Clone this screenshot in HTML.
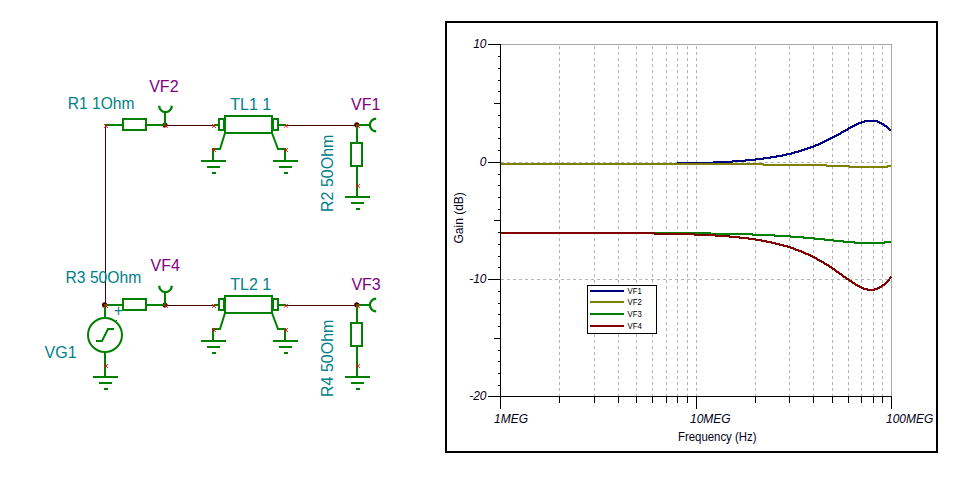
<!DOCTYPE html>
<html lang="en"><head><meta charset="utf-8"><title>Transmission line circuit and gain plot</title>
<style>html,body{margin:0;padding:0;background:#fff}body{width:955px;height:478px;overflow:hidden}svg{display:block}text{font-family:"Liberation Sans",Arial,sans-serif}</style></head><body>
<svg width="955" height="478" viewBox="0 0 955 478">
<rect width="955" height="478" fill="#fff"/>
<g id="schematic">
<path d="M105.5,125V305" stroke="#400000" stroke-width="1" shape-rendering="crispEdges"/>
<circle cx="104.6" cy="304.9" r="2.6" fill="#400000"/>
<circle cx="164.9" cy="125.1" r="2.5" fill="#400000"/>
<circle cx="356.8" cy="124.8" r="2.6" fill="#400000"/>
<path d="M105,125H123M146,125H165" stroke="#008000" stroke-width="2" shape-rendering="crispEdges"/>
<rect x="123" y="119" width="23" height="11" fill="#fff" stroke="#008000" stroke-width="2" shape-rendering="crispEdges"/>
<path d="M165,125V113" stroke="#008000" stroke-width="2" shape-rendering="crispEdges"/>
<path d="M159.2,105.8A6.3,6.3 0 0 0 171.8,105.8" stroke="#008000" stroke-width="2.3" fill="none"/>
<path d="M166,125.5H214M286,125.5H357" stroke="#400000" stroke-width="1" shape-rendering="crispEdges"/>
<path d="M214,125H219M278,125H286" stroke="#008000" stroke-width="2" shape-rendering="crispEdges"/>
<rect x="219" y="119" width="5" height="11" fill="#fff" stroke="#008000" stroke-width="2" shape-rendering="crispEdges"/>
<rect x="273" y="119" width="5" height="11" fill="#fff" stroke="#008000" stroke-width="2" shape-rendering="crispEdges"/>
<rect x="225" y="116" width="47" height="17" fill="#fff" stroke="#008000" stroke-width="2" shape-rendering="crispEdges"/>
<path d="M225,133L220,149H213V161M272,133L278,149H285V161" stroke="#008000" stroke-width="2" fill="none"/>
<path d="M201,161H226M207,167H220M212,173H216" stroke="#008000" stroke-width="2" fill="none" shape-rendering="crispEdges"/>
<path d="M273,161H298M279,167H292M284,173H288" stroke="#008000" stroke-width="2" fill="none" shape-rendering="crispEdges"/>
<path d="M357,125H370M357,125V143M357,166V197" stroke="#008000" stroke-width="2" shape-rendering="crispEdges"/>
<path d="M376.2,118.7A6.3,6.3 0 0 0 376.2,131.3" stroke="#008000" stroke-width="2.3" fill="none"/>
<rect x="351" y="143" width="11" height="23" fill="#fff" stroke="#008000" stroke-width="2" shape-rendering="crispEdges"/>
<path d="M345,197H370M351,203H364M356,209H360" stroke="#008000" stroke-width="2" fill="none" shape-rendering="crispEdges"/>
<path d="M104.0,124.0L108.0,128.0M108.0,124.0L104.0,128.0" stroke="#ff0000" stroke-width="0.9" fill="none"/>
<path d="M163.8,123.9L167.8,127.9M167.8,123.9L163.8,127.9" stroke="#ff0000" stroke-width="0.9" fill="none"/>
<path d="M212.0,124.0L216.0,128.0M216.0,124.0L212.0,128.0" stroke="#ff0000" stroke-width="0.9" fill="none"/>
<path d="M284.0,123.8L288.0,127.8M288.0,123.8L284.0,127.8" stroke="#ff0000" stroke-width="0.9" fill="none"/>
<path d="M212.0,148.0L216.0,152.0M216.0,148.0L212.0,152.0" stroke="#ff0000" stroke-width="0.9" fill="none"/>
<path d="M284.0,148.0L288.0,152.0M288.0,148.0L284.0,152.0" stroke="#ff0000" stroke-width="0.9" fill="none"/>
<path d="M355.9,124.0L359.9,128.0M359.9,124.0L355.9,128.0" stroke="#ff0000" stroke-width="0.9" fill="none"/>
<path d="M355.9,184.0L359.9,188.0M359.9,184.0L355.9,188.0" stroke="#ff0000" stroke-width="0.9" fill="none"/>
<circle cx="164.9" cy="305.1" r="2.5" fill="#400000"/>
<circle cx="356.8" cy="304.8" r="2.6" fill="#400000"/>
<path d="M105,305H123M146,305H165" stroke="#008000" stroke-width="2" shape-rendering="crispEdges"/>
<rect x="123" y="299" width="23" height="11" fill="#fff" stroke="#008000" stroke-width="2" shape-rendering="crispEdges"/>
<path d="M165,305V293" stroke="#008000" stroke-width="2" shape-rendering="crispEdges"/>
<path d="M159.2,285.8A6.3,6.3 0 0 0 171.8,285.8" stroke="#008000" stroke-width="2.3" fill="none"/>
<path d="M166,305.5H214M286,305.5H357" stroke="#400000" stroke-width="1" shape-rendering="crispEdges"/>
<path d="M214,305H219M278,305H286" stroke="#008000" stroke-width="2" shape-rendering="crispEdges"/>
<rect x="219" y="299" width="5" height="11" fill="#fff" stroke="#008000" stroke-width="2" shape-rendering="crispEdges"/>
<rect x="273" y="299" width="5" height="11" fill="#fff" stroke="#008000" stroke-width="2" shape-rendering="crispEdges"/>
<rect x="225" y="296" width="47" height="17" fill="#fff" stroke="#008000" stroke-width="2" shape-rendering="crispEdges"/>
<path d="M225,313L220,329H213V341M272,313L278,329H285V341" stroke="#008000" stroke-width="2" fill="none"/>
<path d="M201,341H226M207,347H220M212,353H216" stroke="#008000" stroke-width="2" fill="none" shape-rendering="crispEdges"/>
<path d="M273,341H298M279,347H292M284,353H288" stroke="#008000" stroke-width="2" fill="none" shape-rendering="crispEdges"/>
<path d="M357,305H370M357,305V323M357,346V377" stroke="#008000" stroke-width="2" shape-rendering="crispEdges"/>
<path d="M376.2,298.7A6.3,6.3 0 0 0 376.2,311.3" stroke="#008000" stroke-width="2.3" fill="none"/>
<rect x="351" y="323" width="11" height="23" fill="#fff" stroke="#008000" stroke-width="2" shape-rendering="crispEdges"/>
<path d="M345,377H370M351,383H364M356,389H360" stroke="#008000" stroke-width="2" fill="none" shape-rendering="crispEdges"/>
<path d="M104.0,304.0L108.0,308.0M108.0,304.0L104.0,308.0" stroke="#ff0000" stroke-width="0.9" fill="none"/>
<path d="M163.8,303.9L167.8,307.9M167.8,303.9L163.8,307.9" stroke="#ff0000" stroke-width="0.9" fill="none"/>
<path d="M212.0,304.0L216.0,308.0M216.0,304.0L212.0,308.0" stroke="#ff0000" stroke-width="0.9" fill="none"/>
<path d="M284.0,303.8L288.0,307.8M288.0,303.8L284.0,307.8" stroke="#ff0000" stroke-width="0.9" fill="none"/>
<path d="M212.0,328.0L216.0,332.0M216.0,328.0L212.0,332.0" stroke="#ff0000" stroke-width="0.9" fill="none"/>
<path d="M284.0,328.0L288.0,332.0M288.0,328.0L284.0,332.0" stroke="#ff0000" stroke-width="0.9" fill="none"/>
<path d="M355.9,304.0L359.9,308.0M359.9,304.0L355.9,308.0" stroke="#ff0000" stroke-width="0.9" fill="none"/>
<path d="M355.9,364.0L359.9,368.0M359.9,364.0L355.9,368.0" stroke="#ff0000" stroke-width="0.9" fill="none"/>
<path d="M105,305V318M105,352V377" stroke="#008000" stroke-width="2" shape-rendering="crispEdges"/>
<circle cx="105" cy="335" r="17" fill="#fff" stroke="#008000" stroke-width="2"/>
<path d="M96,341H102L108,329H114" stroke="#008000" stroke-width="2" fill="none"/>
<path d="M93,377H118M99,383H112M104,389H108" stroke="#008000" stroke-width="2" fill="none" shape-rendering="crispEdges"/>
<path d="M104.0,364.0L108.0,368.0M108.0,364.0L104.0,368.0" stroke="#ff0000" stroke-width="0.9" fill="none"/>
<path d="M104.0,304.0L108.0,308.0M108.0,304.0L104.0,308.0" stroke="#ff0000" stroke-width="0.9" fill="none"/>
<text x="113.8" y="316.3" font-size="16" fill="#008088">+</text>
<rect x="116" y="320" width="1" height="1" fill="#222"/>
<text transform="translate(67.8,109) scale(0.975,1.0)" font-size="16" fill="#008088" >R1 1Ohm</text>
<text transform="translate(149.2,92) scale(1.0,1.0)" font-size="16" fill="#800080" >VF2</text>
<text transform="translate(230.3,110) scale(1.0,1.0)" font-size="16" fill="#008088" >TL1 1</text>
<text transform="translate(351,110) scale(1.0,1.0)" font-size="16" fill="#800080" >VF1</text>
<text transform="translate(333,212) rotate(-90) scale(1.0,1.0)" font-size="16" fill="#008088" >R2 50Ohm</text>
<text transform="translate(65.5,283) scale(0.98,1.0)" font-size="16" fill="#008088" >R3 50Ohm</text>
<text transform="translate(150.6,271) scale(1.0,1.0)" font-size="16" fill="#800080" >VF4</text>
<text transform="translate(230.3,290) scale(1.0,1.0)" font-size="16" fill="#008088" >TL2 1</text>
<text transform="translate(351.4,290) scale(1.0,1.0)" font-size="16" fill="#800080" >VF3</text>
<text transform="translate(333,397) rotate(-90) scale(1.0,1.0)" font-size="16" fill="#008088" >R4 50Ohm</text>
<text transform="translate(44.6,358) scale(1.0,1.0)" font-size="16" fill="#008088" >VG1</text>
</g>
<g id="plot">
<rect x="446" y="22" width="491" height="430" fill="#fff" stroke="#000" stroke-width="2" shape-rendering="crispEdges"/>
<path d="M559.5,46V396M594.5,46V396M618.5,46V396M636.5,46V396M652.5,46V396M666.5,46V396M677.5,46V396M687.5,46V396M755.5,46V396M789.5,46V396M813.5,46V396M832.5,46V396M848.5,46V396M861.5,46V396M873.5,46V396M882.5,46V396M696.5,46V396" stroke="#b4b4b4" stroke-width="1" stroke-dasharray="3 3" fill="none" shape-rendering="crispEdges"/>
<path d="M501,162.5H891M501,279.5H891" stroke="#b4b4b4" stroke-width="1" stroke-dasharray="3 3" fill="none" shape-rendering="crispEdges"/>
<path d="M501,44.5H891.5V396" stroke="#a8a8a8" stroke-width="1" fill="none" shape-rendering="crispEdges"/>
<path d="M501,164L677,164L678,163L713,163L714,162L732,162L733,161L745,161L746,160L755,160L756,159L763,159L764,158L770,158L771,157L776,157L777,156L782,156L783,155L786,155L787,154L791,154L792,153L794,153L795,152L798,152L799,151L801,151L802,150L804,150L805,149L807,149L808,148L810,148L811,147L813,147L814,146L815,146L816,145L818,145L819,144L820,144L821,143L822,143L823,142L824,142L825,141L826,141L827,140L828,140L829,139L830,139L831,138L832,138L833,137L834,137L835,136L836,136L837,135L838,135L839,134L840,134L841,133L842,132L843,132L844,131L845,131L846,130L847,130L848,129L849,128L850,128L851,127L852,127L853,126L854,126L855,125L856,125L857,124L858,124L859,123L861,123L862,122L864,122L865,121L877,121L878,122L879,122L880,123L881,123L882,124L883,124L884,125L885,126L886,126L887,127L888,128L889,129L890,130L891,131" stroke="#000080" stroke-width="2" fill="none" stroke-linejoin="round" shape-rendering="crispEdges"/>
<path d="M501,164L763,164L764,165L826,165L827,166L849,166L850,167L887,167L888,166L891,166" stroke="#808000" stroke-width="2" fill="none" stroke-linejoin="round" shape-rendering="crispEdges"/>
<path d="M501,233L710,233L711,234L752,234L753,235L774,235L775,236L790,236L791,237L803,237L804,238L814,238L815,239L824,239L825,240L833,240L834,241L843,241L844,242L854,242L855,243L884,243L885,242L891,242" stroke="#008000" stroke-width="2" fill="none" stroke-linejoin="round" shape-rendering="crispEdges"/>
<path d="M501,233L654,233L655,234L694,234L695,235L715,235L716,236L729,236L730,237L739,237L740,238L748,238L749,239L755,239L756,240L761,240L762,241L766,241L767,242L771,242L772,243L775,243L776,244L779,244L780,245L783,245L784,246L787,246L788,247L790,247L791,248L793,248L794,249L795,249L796,250L798,250L799,251L801,251L802,252L803,252L804,253L805,253L806,254L808,254L809,255L810,255L811,256L812,256L813,257L814,257L815,258L816,258L817,259L818,260L819,260L820,261L821,261L822,262L823,262L824,263L825,264L826,264L827,265L828,265L829,266L830,267L831,267L832,268L833,269L834,269L835,270L836,271L837,272L838,272L839,273L840,274L841,274L842,275L843,276L844,277L845,277L846,278L847,279L848,279L849,280L850,281L851,281L852,282L853,283L854,283L855,284L856,285L857,285L858,286L859,286L860,287L861,287L862,288L863,288L864,289L867,289L868,290L874,290L875,289L877,289L878,288L879,288L880,287L881,287L882,286L883,285L884,285L885,284L886,283L887,282L888,281L889,280L890,278L891,277" stroke="#800000" stroke-width="2" fill="none" stroke-linejoin="round" shape-rendering="crispEdges"/>
<path d="M500.5,44V409M488,396.5H892M488,44.5H501M488,44.5H501M498,56.5H501M498,68.5H501M498,80.5H501M498,91.5H501M494,103.5H501M498,115.5H501M498,127.5H501M498,138.5H501M498,150.5H501M488,162.5H501M498,174.5H501M498,185.5H501M498,197.5H501M498,209.5H501M494,220.5H501M498,232.5H501M498,244.5H501M498,256.5H501M498,267.5H501M488,279.5H501M498,291.5H501M498,303.5H501M498,314.5H501M498,326.5H501M494,338.5H501M498,350.5H501M498,361.5H501M498,373.5H501M498,385.5H501M488,396.5H501M559.5,397V403M594.5,397V403M618.5,397V403M636.5,397V403M652.5,397V403M666.5,397V403M677.5,397V403M687.5,397V403M755.5,397V403M789.5,397V403M813.5,397V403M832.5,397V403M848.5,397V403M861.5,397V403M873.5,397V403M882.5,397V403M696.5,397V409M891.5,397V409" stroke="#000" stroke-width="1" fill="none" shape-rendering="crispEdges"/>
<text transform="translate(486.5,48) scale(1.0,1.04)" font-size="12" font-style="italic" text-anchor="end" fill="#000018">10</text>
<text transform="translate(486.5,166) scale(1.0,1.04)" font-size="12" font-style="italic" text-anchor="end" fill="#000018">0</text>
<text transform="translate(486.5,283) scale(1.0,1.04)" font-size="12" font-style="italic" text-anchor="end" fill="#000018">-10</text>
<text transform="translate(486.5,400) scale(1.0,1.04)" font-size="12" font-style="italic" text-anchor="end" fill="#000018">-20</text>
<text transform="translate(494,423) scale(1.0,1.04)" font-size="12" font-style="italic" text-anchor="start" fill="#000018">1MEG</text>
<text transform="translate(690,423) scale(1.0,1.04)" font-size="12" font-style="italic" text-anchor="start" fill="#000018">10MEG</text>
<text transform="translate(886,423) scale(1.0,1.04)" font-size="12" font-style="italic" text-anchor="start" fill="#000018">100MEG</text>
<text transform="translate(678,440.5) scale(0.95,1.04)" font-size="12" fill="#000018">Frequency (Hz)</text>
<text transform="translate(463.2,243.5) rotate(-90) scale(1,1.04)" font-size="12" fill="#000018">Gain (dB)</text>
<rect x="587.5" y="285.5" width="69" height="48" fill="#fff" stroke="#000" stroke-width="1" shape-rendering="crispEdges"/>
<path d="M590,291H624" stroke="#000080" stroke-width="2" shape-rendering="crispEdges"/>
<text transform="translate(627.6,293.7) scale(0.97,1.1)" font-size="8" fill="#000">VF1</text>
<path d="M590,302H624" stroke="#808000" stroke-width="2" shape-rendering="crispEdges"/>
<text transform="translate(627.6,304.7) scale(0.97,1.1)" font-size="8" fill="#000">VF2</text>
<path d="M590,314H624" stroke="#008000" stroke-width="2" shape-rendering="crispEdges"/>
<text transform="translate(627.6,316.7) scale(0.97,1.1)" font-size="8" fill="#000">VF3</text>
<path d="M590,326H624" stroke="#800000" stroke-width="2" shape-rendering="crispEdges"/>
<text transform="translate(627.6,328.7) scale(0.97,1.1)" font-size="8" fill="#000">VF4</text>
</g>
</svg></body></html>
